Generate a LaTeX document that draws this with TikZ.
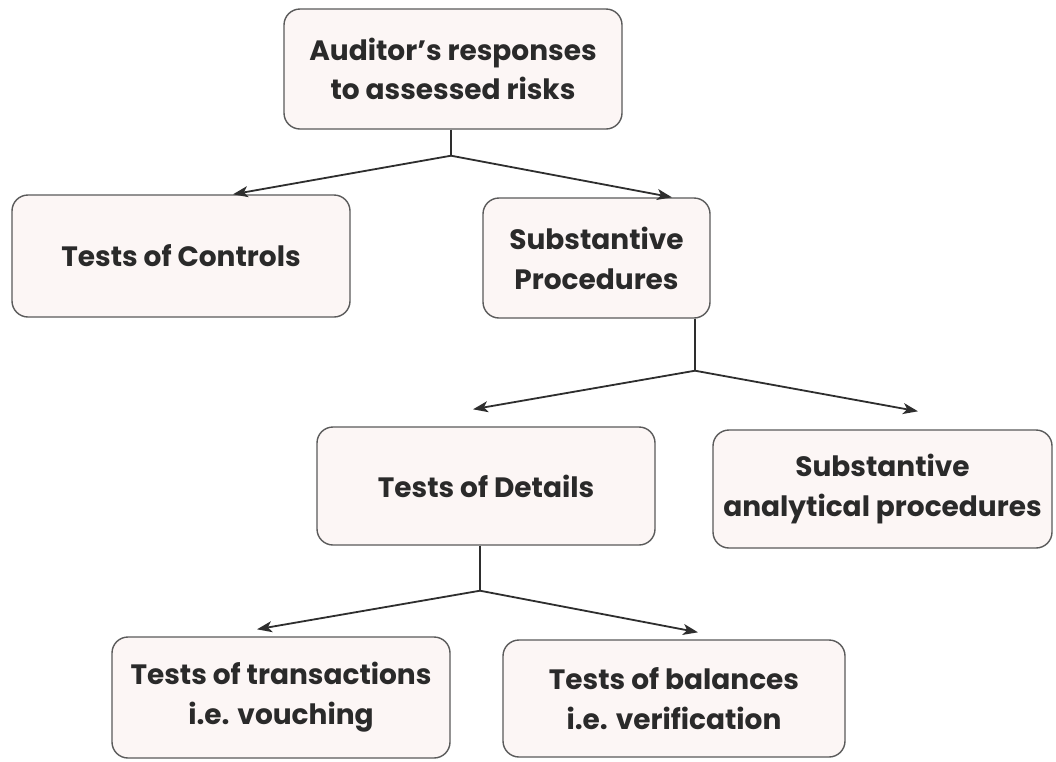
\documentclass[tikz,border=0pt]{standalone}
\usepackage{fontspec}
\setmainfont{Poppins}
\usetikzlibrary{arrows.meta}
\definecolor{boxfill}{HTML}{FCF6F5}
\definecolor{boxline}{HTML}{5A5A5A}
\definecolor{arrline}{HTML}{2E2E2E}
\definecolor{txt}{HTML}{2A2A2A}
\tikzset{
  box/.style={draw=boxline, line width=1.4pt, fill=boxfill, rounded corners=16pt,
    align=center, text=txt, font=\fontsize{28}{40}\selectfont\bfseries, inner sep=0pt},
  conn/.style={draw=arrline, line width=1.8pt},
  arr/.style={conn, -{Stealth[length=15pt,width=11pt,inset=4pt]}}
}
\begin{document}
\begin{tikzpicture}[x=1pt,y=-1pt]
\useasboundingbox[fill=white] (0,0) rectangle (1056,761);
\node[box, minimum width=338pt, minimum height=120pt] (top) at (453,69) {\raisebox{-5pt}{\shortstack{Auditor's responses\\[6pt]to assessed risks}}};
\node[box, minimum width=338pt, minimum height=122pt] (toc) at (181,256) {Tests of Controls};
\node[box, minimum width=227pt, minimum height=120pt] (sp) at (596.5,258) {Substantive\\Procedures};
\node[box, minimum width=338pt, minimum height=118pt] (tod) at (486,486) {Tests of Details};
\node[box, minimum width=339pt, minimum height=118pt] (sap) at (882.5,489) {Substantive\\analytical procedures};
\node[box, minimum width=338pt, minimum height=121pt] (tot) at (281,697.5) {Tests of transactions\\i.e. vouching};
\node[box, minimum width=342pt, minimum height=117pt] (tob) at (674,698.5) {Tests of balances\\i.e. verification};
% junctions
\coordinate (j1) at ([xshift=-2pt, yshift=-26pt]top.south);
\coordinate (j2) at ([xshift=98.5pt, yshift=-52pt]sp.south);
\coordinate (j3) at ([xshift=-6pt, yshift=-45pt]tod.south);
\draw[conn] ([xshift=-2pt]top.south) -- (j1);
\draw[arr] (j1) -- ([xshift=52pt]toc.north);
\draw[arr] (j1) -- ([xshift=75.5pt]sp.north);
\draw[conn] ([xshift=98.5pt]sp.south) -- (j2);
\draw[arr] (j2) -- ([xshift=-13pt, yshift=17pt]tod.north);
\draw[arr] (j2) -- ([xshift=35.5pt, yshift=18pt]sap.north);
\draw[conn] ([xshift=-6pt]tod.south) -- (j3);
\draw[arr] (j3) -- ([xshift=-24pt, yshift=7pt]tot.north);
\draw[arr] (j3) -- ([xshift=24pt, yshift=7pt]tob.north);
\end{tikzpicture}
\end{document}
